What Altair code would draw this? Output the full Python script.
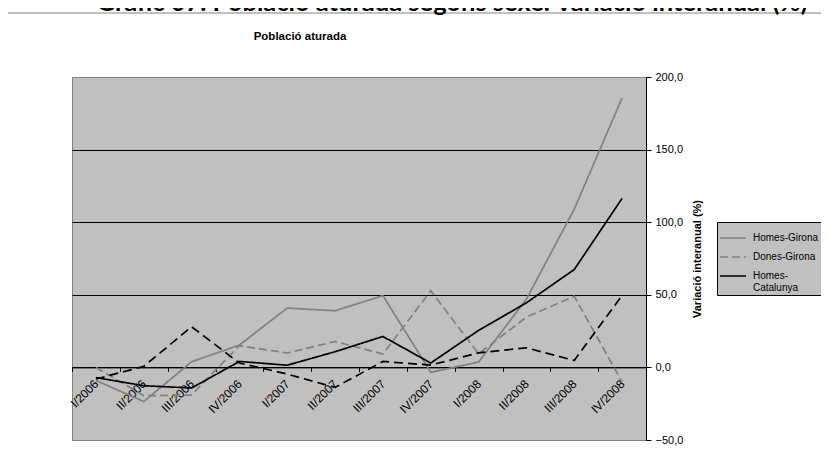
import altair as alt
import pandas as pd

cats = ["I/2006", "II/2006", "III/2006", "IV/2006", "I/2007", "II/2007",
        "III/2007", "IV/2007", "I/2008", "II/2008", "III/2008", "IV/2008"]
homes_girona = [-9.0, -23.5, 3.9, 15.4, 40.9, 39.0, 49.4, -3.4, 3.7, 47.0, 109.0, 185.5]
dones_girona = [0.0, -19.5, -19.0, 15.0, 9.9, 17.9, 9.2, 52.8, 9.4, 34.6, 49.0, -10.0]
homes_cat = [-7.0, -12.6, -14.2, 4.1, 1.5, 10.8, 21.3, 3.0, 25.5, 44.5, 67.4, 116.4]
dones_cat = [-8.0, 0.7, 28.0, 3.0, -4.6, -13.8, 4.1, 1.6, 10.0, 13.5, 4.8, 49.5]

series_names = ["Homes-Girona", "Dones-Girona", "Homes-Catalunya", "Dones-Catalunya"]
series_colors = ["#808080", "#808080", "#000000", "#000000"]
series_dash = [[1, 0], [8, 4], [1, 0], [9, 5]]
legend_names = ["Homes-Girona", "Dones-Girona", "Homes-Catalunya"]

y_ticks = [-50, 0, 50, 100, 150, 200]

main_title = "Gràfic 07. Població aturada segons sexe. Variació interanual (%)"
inner_title = "Població aturada"
y_title = "Variació interanual (%)"

rows = []
for name, vals in zip(series_names, [homes_girona, dones_girona, homes_cat, dones_cat]):
    for c, v in zip(cats, vals):
        rows.append({"cat": c, "val": v, "serie": name})
df = pd.DataFrame(rows)

FONT = "Liberation Sans"
SP = "\u2002"

legend = alt.Legend(
    orient="none", legendX=645, legendY=145, title=None,
    values=legend_names, symbolType="stroke", symbolSize=676,
    symbolStrokeWidth=1.5, labelFont=FONT, labelFontSize=10, labelColor="black",
    fillColor="#c0c0c0", strokeColor="black", padding=2, rowPadding=0,
    labelOffset=6, labelLimit=200,
    labelExpr=("datum.label == 'Homes-Catalunya' ? ['" + SP * 4 + "Homes-', '" + SP * 2
               + "Catalunya'] : datum.label"),
)

lines = alt.Chart(df).mark_line(strokeWidth=1.7).encode(
    x=alt.X("cat:N", sort=cats, bandPosition=0.5,
            scale=alt.Scale(type="band", paddingInner=0, paddingOuter=0),
            axis=alt.Axis(title=None, offset=-72.6, domainColor="black", tickColor="black",
                          tickSize=4, tickBand="extent", labelAngle=-45, labelAlign="right",
                          labelBaseline="middle", labelPadding=10, labelFont=FONT,
                          labelFontSize=12, labelColor="black", grid=False)),
    y=alt.Y("val:Q", scale=alt.Scale(domain=[-50, 200], nice=False, zero=False),
            axis=alt.Axis(orient="right", values=y_ticks, title=y_title,
                          labelExpr="replace(format(datum.value, '.1f'), '.', ',')",
                          labelFont=FONT, labelFontSize=11, labelColor="black",
                          labelPadding=4, tickSize=5, tickColor="black",
                          domainColor="black", grid=True,
                          gridColor=alt.condition("datum.value <= -50 || datum.value >= 200",
                                                  alt.value("#808080"), alt.value("#000000")),
                          titleFont=FONT, titleFontSize=11, titleFontWeight="bold",
                          titleColor="black", titleAngle=270, titleX=51, titleY=181.5,
                          titleAlign="center", titleBaseline="middle")),
    color=alt.Color("serie:N", scale=alt.Scale(domain=series_names, range=series_colors),
                    legend=legend),
    strokeDash=alt.StrokeDash("serie:N", scale=alt.Scale(domain=series_names, range=series_dash),
                              legend=legend),
    detail="serie:N",
)

frame = alt.Chart(pd.DataFrame({"k": [0]})).mark_rect(
    fillOpacity=0, stroke="#808080", strokeWidth=1
).encode(x=alt.value(-67), x2=alt.value(800), y=alt.value(-64), y2=alt.value(420))

big_title = alt.Chart(pd.DataFrame({"t": [main_title]})).mark_text(
    font="Lato", fontSize=25.5, fontWeight="bold", color="black", align="center",
    baseline="alphabetic"
).encode(text="t:N", x=alt.value(380), y=alt.value(-66.5))

small_title = alt.Chart(pd.DataFrame({"t": [inner_title]})).mark_text(
    font=FONT, fontSize=11.5, fontWeight="bold", color="black", align="center",
    baseline="middle"
).encode(text="t:N", x=alt.value(228), y=alt.value(-40))

chart = alt.layer(frame, lines, big_title, small_title).properties(
    width=574, height=363,
    padding={"left": 64, "top": 69, "right": 175, "bottom": 6},
    autosize=alt.AutoSizeParams(type="none"),
    background="white",
).configure_view(fill="#c0c0c0", stroke="#808080", strokeWidth=1)

chart.save("out.html", embed_options={"renderer": "svg", "actions": False})
